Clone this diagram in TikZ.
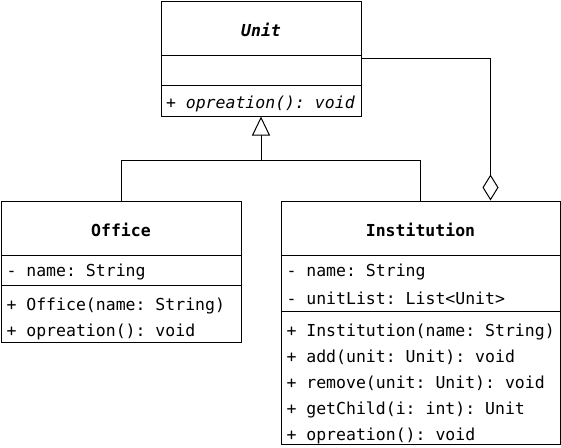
\documentclass[tikz,border=0pt]{standalone}
\usepackage{fontspec}
\setmonofont{DejaVu Sans Mono}
\usetikzlibrary{arrows.meta}
\begin{document}
\begin{tikzpicture}[x=1pt,y=-1pt, line width=1pt,
  box/.style={draw, inner sep=0pt, anchor=north west, fill=white},
  txt/.style={font=\ttfamily\fontsize{16.5}{19}\selectfont, inner sep=0pt, anchor=west},
  ttl/.style={font=\ttfamily\bfseries\fontsize{16.5}{19}\selectfont, inner sep=0pt},
  inh/.style={-{Triangle[open,length=19pt,width=18pt]}},
  agg/.style={{Diamond[open,length=26pt,width=16pt]}-}]
\useasboundingbox (0,0) rectangle (561,447);
% boxes
\node[box, minimum width=200pt, minimum height=115pt] (unit) at (160.5,0.5) {};
\node[box, minimum width=240pt, minimum height=141pt] (office) at (0.5,200.5) {};
\node[box, minimum width=279pt, minimum height=243pt] (inst) at (280.5,200.5) {};
% dividers
\draw ([yshift=-55pt]unit.north west) -- ([yshift=-55pt]unit.north east);
\draw ([yshift=-85pt]unit.north west) -- ([yshift=-85pt]unit.north east);
\draw ([yshift=-55pt]office.north west) -- ([yshift=-55pt]office.north east);
\draw ([yshift=-85pt]office.north west) -- ([yshift=-85pt]office.north east);
\draw ([yshift=-55pt]inst.north west) -- ([yshift=-55pt]inst.north east);
\draw ([yshift=-111pt]inst.north west) -- ([yshift=-111pt]inst.north east);
% titles
\node[ttl] (unitT) at ([yshift=-29pt]unit.north) {\itshape Unit};
\node[ttl] (officeT) at ([yshift=-29pt]office.north) {Office};
\node[ttl] (instT) at ([yshift=-29pt]inst.north) {Institution};
% unit members
\node[txt] (u1) at ([xshift=5pt,yshift=-103.5pt]unit.north west) {\itshape + opreation(): void};
% office members
\node[txt] (o1) at ([xshift=5.5pt,yshift=-71.5pt]office.north west) {- name: String};
\node[txt] (o2) at ([xshift=5.5pt,yshift=-105pt]office.north west) {+ Office(name: String)};
\node[txt] (o3) at ([xshift=5.5pt,yshift=-131pt]office.north west) {+ opreation(): void};
% institution members
\node[txt] (i1) at ([xshift=5.5pt,yshift=-71.5pt]inst.north west) {- name: String};
\node[txt] (i2) at ([xshift=5.5pt,yshift=-97.5pt]inst.north west) {- unitList: List<Unit>};
\node[txt] (i3) at ([xshift=5.5pt,yshift=-131pt]inst.north west) {+ Institution(name: String)};
\node[txt] (i4) at ([xshift=5.5pt,yshift=-157pt]inst.north west) {+ add(unit: Unit): void};
\node[txt] (i5) at ([xshift=5.5pt,yshift=-183pt]inst.north west) {+ remove(unit: Unit): void};
\node[txt] (i6) at ([xshift=5.5pt,yshift=-209pt]inst.north west) {+ getChild(i: int): Unit};
\node[txt] (i7) at ([xshift=5.5pt,yshift=-235pt]inst.north west) {+ opreation(): void};
% inheritance
\draw (office.north) -- ++(0,-40) coordinate (j1) -| (inst.north);
\draw[inh] (j1 -| unit.south) -- (unit.south);
% aggregation
\draw[agg] ([xshift=70pt]inst.north) |- ([yshift=-58pt]unit.north east);
\end{tikzpicture}
\end{document}
